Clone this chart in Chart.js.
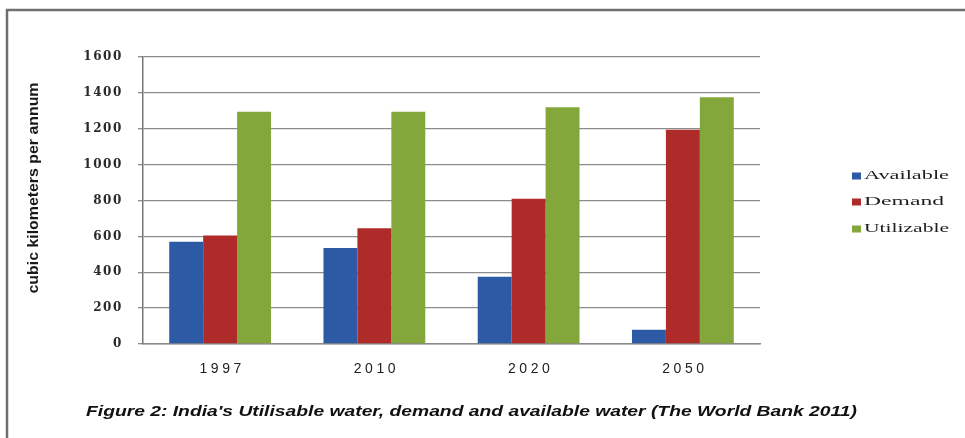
<!DOCTYPE html>
<html>
<head>
<meta charset="utf-8">
<script src="https://cdn.jsdelivr.net/npm/chart.js@4/dist/chart.umd.min.js"></script>
<style>
  html, body { margin: 0; padding: 0; background: #fff; }
  #wrap { width: 965px; height: 438px; position: relative; }
</style>
</head>
<body>
<div id="wrap"><canvas id="c" width="965" height="438"></canvas></div>
<script>
// Years on the category axis
const years = ['1997', '2010', '2020', '2050'];
// Water volumes, cubic kilometres per annum
const available = [570, 535, 375, 80];
const demand = [605, 645, 810, 1195];
const utilizable = [1295, 1295, 1320, 1375];
// Value axis ticks
const yTicks = [0, 200, 400, 600, 800, 1000, 1200, 1400, 1600];

const seriesNames = ['Available', 'Demand', 'Utilizable'];
const seriesColors = ['#2c5aa5', '#ae2b29', '#83a73b'];

const axisTitle = 'cubic kilometers per annum';
const caption = "Figure 2: India's Utilisable water, demand and available water (The World Bank 2011)";

// Draw text squeezed or stretched horizontally to span a given width
function fitText(ctx, text, x, y, width, font, color, rotate) {
  ctx.save();
  ctx.font = font;
  ctx.fillStyle = color;
  ctx.textBaseline = 'middle';
  ctx.textAlign = 'center';
  const natural = ctx.measureText(text).width;
  ctx.translate(x, y);
  if (rotate) ctx.rotate(-Math.PI / 2);
  ctx.scale(width / natural, 1);
  ctx.fillText(text, 0, 0);
  ctx.restore();
}

const decorations = {
  id: 'decorations',
  beforeDraw(chart) {
    const ctx = chart.ctx;
    ctx.save();
    ctx.fillStyle = '#ffffff';
    ctx.fillRect(0, 0, chart.width, chart.height);
    // page frame
    ctx.strokeStyle = '#6f6f6f';
    ctx.lineWidth = 2.5;
    ctx.beginPath();
    ctx.moveTo(7, 438);
    ctx.lineTo(7, 10);
    ctx.lineTo(965, 10);
    ctx.stroke();
    ctx.restore();
  },
  afterDraw(chart) {
    const ctx = chart.ctx;
    const ys = chart.scales.y;
    const xs = chart.scales.x;

    // value tick labels
    ctx.save();
    ctx.font = 'bold 12px "DejaVu Serif"';
    ctx.fillStyle = '#2a2a2a';
    ctx.textAlign = 'right';
    ctx.textBaseline = 'middle';
    ctx.letterSpacing = '1.6px';
    ys.ticks.forEach(t => {
      ctx.fillText(String(t.value), 123, ys.getPixelForValue(t.value));
    });
    ctx.restore();

    // category labels
    ctx.save();
    ctx.font = '14px "Liberation Sans"';
    ctx.fillStyle = '#222222';
    ctx.textAlign = 'center';
    ctx.textBaseline = 'middle';
    ctx.letterSpacing = '3.5px';
    years.forEach((yr, i) => {
      ctx.fillText(yr, xs.getPixelForValue(i) + 2, 369);
    });
    ctx.restore();

    // rotated axis title
    fitText(ctx, axisTitle, 34, 188, 211, 'bold 15px "Liberation Sans"', '#1a1a1a', true);

    // legend
    const legendY = [176, 202, 229];
    const legendW = [85, 80, 85];
    seriesNames.forEach((name, i) => {
      ctx.save();
      ctx.fillStyle = seriesColors[i];
      ctx.fillRect(852, legendY[i] - 3.5, 9, 7);
      ctx.restore();
      ctx.save();
      ctx.font = '13px "Liberation Serif"';
      ctx.fillStyle = '#1e1e1e';
      ctx.textBaseline = 'middle';
      const natural = ctx.measureText(name).width;
      ctx.translate(864, legendY[i]);
      ctx.scale(legendW[i] / natural, 1);
      ctx.fillText(name, 0, 0);
      ctx.restore();
    });

    // caption
    fitText(ctx, caption, 471.5, 412, 771, 'italic bold 15px "Liberation Sans"', '#111111', false);
  }
};

new Chart(document.getElementById('c'), {
  type: 'bar',
  data: {
    labels: years,
    datasets: [
      { label: seriesNames[0], data: available, backgroundColor: seriesColors[0] },
      { label: seriesNames[1], data: demand, backgroundColor: seriesColors[1] },
      { label: seriesNames[2], data: utilizable, backgroundColor: seriesColors[2] }
    ]
  },
  options: {
    responsive: false,
    animation: false,
    devicePixelRatio: 1,
    layout: { padding: { left: 0, top: 57, right: 205, bottom: 64 } },
    datasets: { bar: { categoryPercentage: 0.66, barPercentage: 1.0, borderWidth: 0 } },
    plugins: { legend: { display: false }, title: { display: false }, tooltip: { enabled: false } },
    scales: {
      x: {
        grid: { display: false },
        border: { display: true, color: '#8a8a8a', width: 1.5 },
        ticks: { display: false },
        afterFit(scale) { scale.height = 30; }
      },
      y: {
        min: 0,
        max: 1600,
        afterBuildTicks(scale) { scale.ticks = yTicks.map(v => ({ value: v })); },
        grid: { color: '#8c8c8c', lineWidth: 1.3, tickLength: 5, drawTicks: true },
        border: { display: true, color: '#777777', width: 1.5 },
        ticks: { display: false },
        afterFit(scale) { scale.width = 143; }
      }
    }
  },
  plugins: [decorations]
});
</script>
</body>
</html>
